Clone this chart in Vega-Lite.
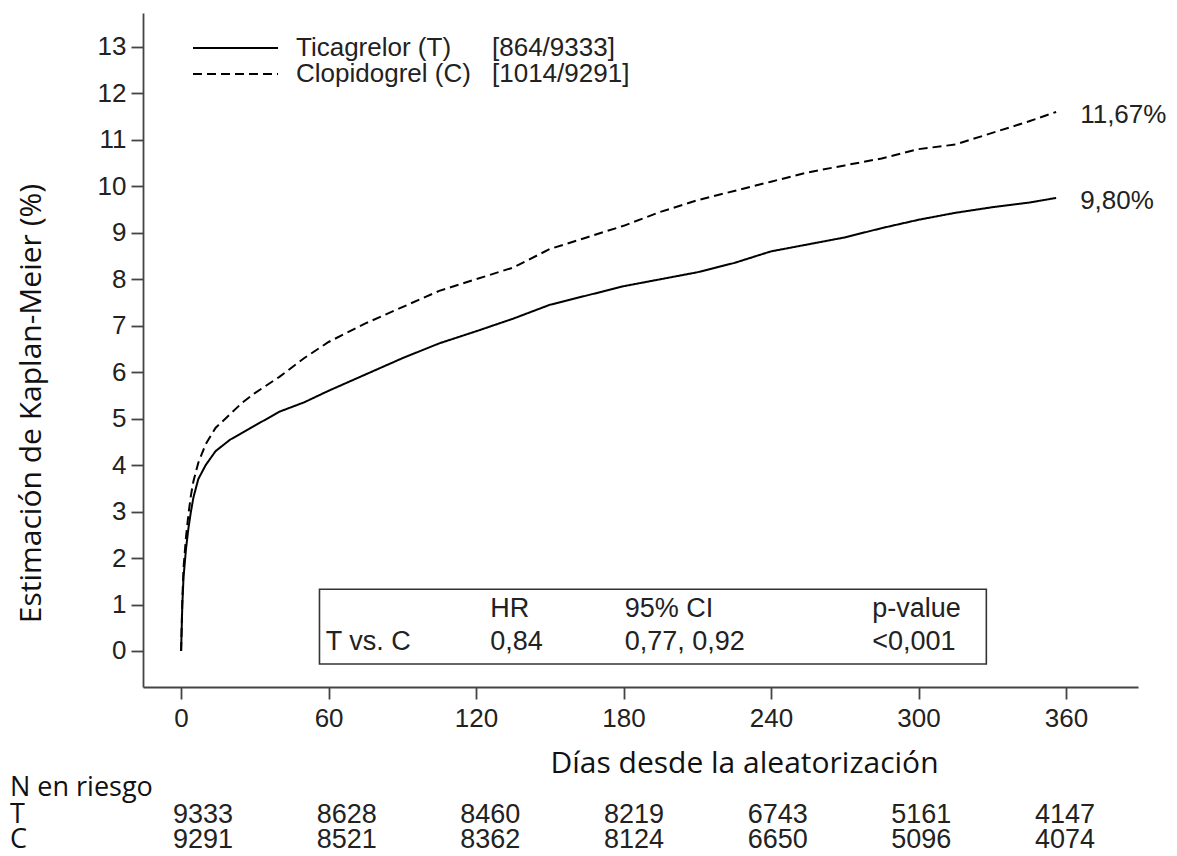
{
  "$schema": "https://vega.github.io/schema/vega-lite/v6.json",
  "width": 995,
  "height": 674,
  "autosize": {"type": "none"},
  "padding": {"left": 143, "top": 13, "right": 39, "bottom": 169},
  "background": "white",
  "config": {"view": {"stroke": null}, "font": "Liberation Sans"},
  "datasets": {
    "arms": [
      {"arm": "T", "name": "Ticagrelor (T)", "events": "[864/9333]", "final": "9,80%"},
      {"arm": "C", "name": "Clopidogrel (C)", "events": "[1014/9291]", "final": "11,67%"}
    ],
    "km": [
      {"arm": "T", "day": 0, "pct": 0},
      {"arm": "T", "day": 0.5, "pct": 1.0},
      {"arm": "T", "day": 1, "pct": 1.6},
      {"arm": "T", "day": 2, "pct": 2.2},
      {"arm": "T", "day": 3, "pct": 2.65},
      {"arm": "T", "day": 4, "pct": 3.0},
      {"arm": "T", "day": 5, "pct": 3.3},
      {"arm": "T", "day": 7, "pct": 3.7},
      {"arm": "T", "day": 10, "pct": 4.0},
      {"arm": "T", "day": 14, "pct": 4.3},
      {"arm": "T", "day": 20, "pct": 4.55},
      {"arm": "T", "day": 25, "pct": 4.7},
      {"arm": "T", "day": 30, "pct": 4.85},
      {"arm": "T", "day": 40, "pct": 5.15},
      {"arm": "T", "day": 50, "pct": 5.35},
      {"arm": "T", "day": 60, "pct": 5.6},
      {"arm": "T", "day": 75, "pct": 5.95},
      {"arm": "T", "day": 90, "pct": 6.3},
      {"arm": "T", "day": 105, "pct": 6.62},
      {"arm": "T", "day": 120, "pct": 6.88},
      {"arm": "T", "day": 135, "pct": 7.15},
      {"arm": "T", "day": 150, "pct": 7.45},
      {"arm": "T", "day": 165, "pct": 7.65},
      {"arm": "T", "day": 180, "pct": 7.85},
      {"arm": "T", "day": 195, "pct": 8.0},
      {"arm": "T", "day": 210, "pct": 8.15},
      {"arm": "T", "day": 225, "pct": 8.35},
      {"arm": "T", "day": 240, "pct": 8.6},
      {"arm": "T", "day": 255, "pct": 8.75},
      {"arm": "T", "day": 270, "pct": 8.9},
      {"arm": "T", "day": 285, "pct": 9.1},
      {"arm": "T", "day": 300, "pct": 9.28},
      {"arm": "T", "day": 315, "pct": 9.43},
      {"arm": "T", "day": 330, "pct": 9.55},
      {"arm": "T", "day": 345, "pct": 9.65},
      {"arm": "T", "day": 356, "pct": 9.75},
      {"arm": "C", "day": 0, "pct": 0},
      {"arm": "C", "day": 0.5, "pct": 1.1},
      {"arm": "C", "day": 1, "pct": 1.8},
      {"arm": "C", "day": 2, "pct": 2.45},
      {"arm": "C", "day": 3, "pct": 2.95},
      {"arm": "C", "day": 4, "pct": 3.35},
      {"arm": "C", "day": 5, "pct": 3.65},
      {"arm": "C", "day": 7, "pct": 4.05},
      {"arm": "C", "day": 10, "pct": 4.45},
      {"arm": "C", "day": 14, "pct": 4.8},
      {"arm": "C", "day": 20, "pct": 5.1},
      {"arm": "C", "day": 25, "pct": 5.35},
      {"arm": "C", "day": 30, "pct": 5.55},
      {"arm": "C", "day": 40, "pct": 5.9},
      {"arm": "C", "day": 50, "pct": 6.3},
      {"arm": "C", "day": 60, "pct": 6.65},
      {"arm": "C", "day": 75, "pct": 7.05},
      {"arm": "C", "day": 90, "pct": 7.4},
      {"arm": "C", "day": 105, "pct": 7.75},
      {"arm": "C", "day": 120, "pct": 8.0},
      {"arm": "C", "day": 135, "pct": 8.25},
      {"arm": "C", "day": 150, "pct": 8.65},
      {"arm": "C", "day": 165, "pct": 8.9},
      {"arm": "C", "day": 180, "pct": 9.15},
      {"arm": "C", "day": 195, "pct": 9.45},
      {"arm": "C", "day": 210, "pct": 9.7},
      {"arm": "C", "day": 225, "pct": 9.9},
      {"arm": "C", "day": 240, "pct": 10.1},
      {"arm": "C", "day": 255, "pct": 10.3},
      {"arm": "C", "day": 270, "pct": 10.45},
      {"arm": "C", "day": 285, "pct": 10.6},
      {"arm": "C", "day": 300, "pct": 10.8},
      {"arm": "C", "day": 315, "pct": 10.9},
      {"arm": "C", "day": 330, "pct": 11.15},
      {"arm": "C", "day": 345, "pct": 11.4},
      {"arm": "C", "day": 356, "pct": 11.6}
    ],
    "hr": [
      {"comparison": "T vs. C", "HR": "0,84", "CI": "0,77, 0,92", "p": "<0,001"}
    ],
    "risk": [
      {"arm": "T", "day": 0, "n": 9333},
      {"arm": "T", "day": 60, "n": 8628},
      {"arm": "T", "day": 120, "n": 8460},
      {"arm": "T", "day": 180, "n": 8219},
      {"arm": "T", "day": 240, "n": 6743},
      {"arm": "T", "day": 300, "n": 5161},
      {"arm": "T", "day": 360, "n": 4147},
      {"arm": "C", "day": 0, "n": 9291},
      {"arm": "C", "day": 60, "n": 8521},
      {"arm": "C", "day": 120, "n": 8362},
      {"arm": "C", "day": 180, "n": 8124},
      {"arm": "C", "day": 240, "n": 6650},
      {"arm": "C", "day": 300, "n": 5096},
      {"arm": "C", "day": 360, "n": 4074}
    ]
  },
  "layer": [
    {
      "layer": [
        {
          "data": {"name": "km"},
          "transform": [
            {"lookup": "arm", "from": {"data": {"name": "arms"}, "key": "arm", "fields": ["name", "events"]}}
          ],
          "mark": {"type": "line", "strokeWidth": 2, "interpolate": "linear"},
          "encoding": {
            "x": {
              "field": "day", "type": "quantitative",
              "scale": {"domain": [-15.5, 389.3], "nice": false, "zero": false},
              "axis": {
                "values": [0, 60, 120, 180, 240, 300, 360],
                "grid": false, "labelFlush": false, "labelOverlap": false,
                "labelFont": "Liberation Sans", "labelFontSize": 26, "labelColor": "#222",
                "labelPadding": 6,
                "tickSize": 12, "tickWidth": 1.8, "tickColor": "#444",
                "domainColor": "#444", "domainWidth": 1.8,
                "title": "Días desde la aleatorización",
                "titleFont": "Open Sans", "titleFontSize": 30, "titleFontWeight": "normal",
                "titleColor": "#111", "titleX": 601, "titleY": 76,
                "titleAlign": "center", "titleBaseline": "middle"
              }
            },
            "y": {
              "field": "pct", "type": "quantitative",
              "scale": {"domain": [-0.775, 13.73], "nice": false, "zero": false},
              "axis": {
                "values": [0, 1, 2, 3, 4, 5, 6, 7, 8, 9, 10, 11, 12, 13],
                "grid": false, "labelFlush": false, "labelOverlap": false,
                "labelFont": "Liberation Sans", "labelFontSize": 26, "labelColor": "#222",
                "labelPadding": 5,
                "tickSize": 12, "tickWidth": 1.8, "tickColor": "#444",
                "domainColor": "#444", "domainWidth": 1.8,
                "title": "Estimación de Kaplan-Meier (%)",
                "titleFont": "Open Sans", "titleFontSize": 30, "titleFontWeight": "normal",
                "titleColor": "#111", "titleX": -112, "titleY": 390, "titleAngle": 270,
                "titleAlign": "center", "titleBaseline": "middle"
              }
            },
            "strokeDash": {
              "field": "name", "type": "nominal",
              "scale": {"domain": ["Ticagrelor (T)", "Clopidogrel (C)"], "range": [[1, 0], [9, 5]]},
              "legend": {
                "title": null, "orient": "none", "legendX": 47, "legendY": 22,
                "symbolType": "M-1,0H7.5", "symbolSize": 400, "symbolStrokeWidth": 2.2,
                "symbolStrokeColor": "#000",
                "labelFont": "Liberation Sans", "labelFontSize": 26, "labelColor": "#222",
                "labelLimit": 400, "labelOffset": 80, "rowPadding": -4, "padding": 0
              }
            },
            "color": {
              "field": "events", "type": "nominal",
              "scale": {"domain": ["[864/9333]", "[1014/9291]"], "range": ["#000", "#000"]},
              "legend": {
                "title": null, "orient": "none", "legendX": 323, "legendY": 22,
                "symbolType": "stroke", "symbolSize": 0, "symbolStrokeWidth": 0, "symbolOpacity": 0,
                "labelFont": "Liberation Sans", "labelFontSize": 26, "labelColor": "#222",
                "labelLimit": 400, "labelOffset": 0, "rowPadding": -4, "padding": 0
              }
            }
          }
        },
        {
          "data": {"name": "km"},
          "transform": [
            {"joinaggregate": [{"op": "max", "field": "day", "as": "maxday"}], "groupby": ["arm"]},
            {"filter": "datum.day == datum.maxday"},
            {"lookup": "arm", "from": {"data": {"name": "arms"}, "key": "arm", "fields": ["final"]}}
          ],
          "mark": {"type": "text", "align": "left", "baseline": "middle", "dx": 24, "dy": 3, "font": "Liberation Sans", "fontSize": 26, "color": "#222"},
          "encoding": {
            "x": {"field": "day", "type": "quantitative", "scale": {"domain": [-15.5, 389.3], "nice": false, "zero": false}},
            "y": {"field": "pct", "type": "quantitative", "scale": {"domain": [-0.775, 13.73], "nice": false, "zero": false}},
            "text": {"field": "final"}
          }
        },
        {
          "data": {"name": "hr"},
          "mark": {"type": "rect", "fill": null, "fillOpacity": 0, "stroke": "#333", "strokeWidth": 1.6},
          "encoding": {
            "x": {"datum": 56.3, "type": "quantitative", "scale": {"domain": [-15.5, 389.3], "nice": false, "zero": false}},
            "x2": {"datum": 327.6},
            "y": {"datum": 1.33, "type": "quantitative", "scale": {"domain": [-0.775, 13.73], "nice": false, "zero": false}},
            "y2": {"datum": -0.28}
          }
        },
        {
          "data": {"name": "hr"},
          "mark": {"type": "text", "text": "HR", "align": "left", "baseline": "middle", "font": "Liberation Sans", "fontSize": 27, "color": "#222"},
          "encoding": {
            "x": {"datum": 125.8, "type": "quantitative", "scale": {"domain": [-15.5, 389.3], "nice": false, "zero": false}},
            "y": {"datum": 0.9, "type": "quantitative", "scale": {"domain": [-0.775, 13.73], "nice": false, "zero": false}}
          }
        },
        {
          "data": {"name": "hr"},
          "mark": {"type": "text", "text": "95% CI", "align": "left", "baseline": "middle", "font": "Liberation Sans", "fontSize": 27, "color": "#222"},
          "encoding": {
            "x": {"datum": 180.5, "type": "quantitative", "scale": {"domain": [-15.5, 389.3], "nice": false, "zero": false}},
            "y": {"datum": 0.9, "type": "quantitative", "scale": {"domain": [-0.775, 13.73], "nice": false, "zero": false}}
          }
        },
        {
          "data": {"name": "hr"},
          "mark": {"type": "text", "text": "p-value", "align": "left", "baseline": "middle", "font": "Liberation Sans", "fontSize": 27, "color": "#222"},
          "encoding": {
            "x": {"datum": 281.2, "type": "quantitative", "scale": {"domain": [-15.5, 389.3], "nice": false, "zero": false}},
            "y": {"datum": 0.9, "type": "quantitative", "scale": {"domain": [-0.775, 13.73], "nice": false, "zero": false}}
          }
        },
        {
          "data": {"name": "hr"},
          "mark": {"type": "text", "align": "left", "baseline": "middle", "font": "Liberation Sans", "fontSize": 27, "color": "#222"},
          "encoding": {
            "x": {"datum": 58.8, "type": "quantitative", "scale": {"domain": [-15.5, 389.3], "nice": false, "zero": false}},
            "y": {"datum": 0.19, "type": "quantitative", "scale": {"domain": [-0.775, 13.73], "nice": false, "zero": false}},
            "text": {"field": "comparison"}
          }
        },
        {
          "data": {"name": "hr"},
          "mark": {"type": "text", "align": "left", "baseline": "middle", "font": "Liberation Sans", "fontSize": 27, "color": "#222"},
          "encoding": {
            "x": {"datum": 125.8, "type": "quantitative", "scale": {"domain": [-15.5, 389.3], "nice": false, "zero": false}},
            "y": {"datum": 0.19, "type": "quantitative", "scale": {"domain": [-0.775, 13.73], "nice": false, "zero": false}},
            "text": {"field": "HR"}
          }
        },
        {
          "data": {"name": "hr"},
          "mark": {"type": "text", "align": "left", "baseline": "middle", "font": "Liberation Sans", "fontSize": 27, "color": "#222"},
          "encoding": {
            "x": {"datum": 180.5, "type": "quantitative", "scale": {"domain": [-15.5, 389.3], "nice": false, "zero": false}},
            "y": {"datum": 0.19, "type": "quantitative", "scale": {"domain": [-0.775, 13.73], "nice": false, "zero": false}},
            "text": {"field": "CI"}
          }
        },
        {
          "data": {"name": "hr"},
          "mark": {"type": "text", "align": "left", "baseline": "middle", "font": "Liberation Sans", "fontSize": 27, "color": "#222"},
          "encoding": {
            "x": {"datum": 281.2, "type": "quantitative", "scale": {"domain": [-15.5, 389.3], "nice": false, "zero": false}},
            "y": {"datum": 0.19, "type": "quantitative", "scale": {"domain": [-0.775, 13.73], "nice": false, "zero": false}},
            "text": {"field": "p"}
          }
        }
      ]
    },
    {
      "layer": [
        {
          "data": {"name": "risk"},
          "transform": [{"filter": "datum.arm == 'T'"}],
          "mark": {"type": "text", "align": "center", "baseline": "middle", "font": "Liberation Sans", "fontSize": 27, "color": "#222"},
          "encoding": {
            "x": {"field": "day", "type": "quantitative", "scale": {"domain": [0, 360], "range": [60, 922], "nice": false, "zero": false}, "axis": null},
            "y": {"datum": -3.53, "type": "quantitative", "scale": {"domain": [-0.775, 13.73], "nice": false, "zero": false}},
            "text": {"field": "n"}
          }
        },
        {
          "data": {"name": "risk"},
          "transform": [{"filter": "datum.arm == 'C'"}],
          "mark": {"type": "text", "align": "center", "baseline": "middle", "font": "Liberation Sans", "fontSize": 27, "color": "#222"},
          "encoding": {
            "x": {"field": "day", "type": "quantitative", "scale": {"domain": [0, 360], "range": [60, 922], "nice": false, "zero": false}, "axis": null},
            "y": {"datum": -4.07, "type": "quantitative", "scale": {"domain": [-0.775, 13.73], "nice": false, "zero": false}},
            "text": {"field": "n"}
          }
        },
        {
          "data": {"name": "arms"},
          "transform": [{"filter": "datum.arm == 'T'"}],
          "mark": {"type": "text", "align": "left", "baseline": "middle", "font": "Open Sans", "fontSize": 27, "color": "#111"},
          "encoding": {
            "x": {"datum": -80.6, "type": "quantitative", "scale": {"domain": [0, 360], "range": [60, 922], "nice": false, "zero": false}, "axis": null},
            "y": {"datum": -3.53, "type": "quantitative", "scale": {"domain": [-0.775, 13.73], "nice": false, "zero": false}},
            "text": {"field": "arm"}
          }
        },
        {
          "data": {"name": "arms"},
          "transform": [{"filter": "datum.arm == 'C'"}],
          "mark": {"type": "text", "align": "left", "baseline": "middle", "font": "Open Sans", "fontSize": 27, "color": "#111"},
          "encoding": {
            "x": {"datum": -80.6, "type": "quantitative", "scale": {"domain": [0, 360], "range": [60, 922], "nice": false, "zero": false}, "axis": null},
            "y": {"datum": -4.07, "type": "quantitative", "scale": {"domain": [-0.775, 13.73], "nice": false, "zero": false}},
            "text": {"field": "arm"}
          }
        },
        {
          "data": {"name": "arms"},
          "transform": [{"filter": "datum.arm == 'T'"}],
          "mark": {"type": "text", "text": "N en riesgo", "align": "left", "baseline": "middle", "font": "Open Sans", "fontSize": 27, "color": "#111"},
          "encoding": {
            "x": {"datum": -80.6, "type": "quantitative", "scale": {"domain": [0, 360], "range": [60, 922], "nice": false, "zero": false}, "axis": null},
            "y": {"datum": -2.95, "type": "quantitative", "scale": {"domain": [-0.775, 13.73], "nice": false, "zero": false}}
          }
        }
      ]
    }
  ],
  "resolve": {"scale": {"x": "independent"}}
}
